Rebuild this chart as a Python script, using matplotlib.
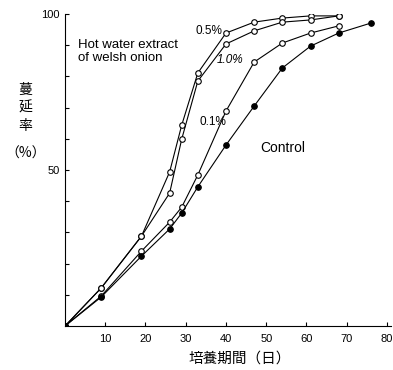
import matplotlib.pyplot as plt

plt.rcParams['font.family'] = ['Liberation Sans', 'DejaVu Sans']

# Days of culture and infection rate (%)
days = [9, 19, 26, 29, 33, 40, 47, 54, 61, 68]
days_control = [9, 19, 26, 29, 33, 40, 47, 54, 61, 68, 76]

rate_05 = [12.2, 28.8, 49.4, 64.4, 81.1, 93.9, 97.4, 98.7, 99.4, 99.4]
rate_10 = [12.2, 28.8, 42.6, 59.9, 78.5, 90.4, 94.6, 97.4, 98.1, 99.4]
rate_01 = [9.6, 24.0, 33.3, 38.1, 48.4, 68.9, 84.6, 90.7, 93.9, 96.2]
rate_control = [9.3, 22.4, 31.1, 36.2, 44.6, 58.0, 70.5, 82.7, 89.7, 93.9, 97.1]

x_ticks = [10, 20, 30, 40, 50, 60, 70, 80]
y_ticks = [10, 20, 30, 40, 50, 60, 70, 80, 90, 100]

fig = plt.figure(figsize=(3.93, 3.70), dpi=100)
ax = fig.add_axes([0.1654, 0.1189, 0.8295, 0.8432])

style = dict(color='black', lw=0.8, markersize=4, markeredgewidth=0.8)
for rates in [rate_05, rate_10, rate_01]:
    ax.plot([0] + days, [0] + rates, marker='o', markerfacecolor='white', **style)
ax.plot([0] + days_control, [0] + rate_control, marker='o', markerfacecolor='black', **style)

ax.set_xlim(0, 81)
ax.set_ylim(0, 100)
ax.spines['top'].set_visible(False)
ax.spines['right'].set_visible(False)
ax.set_xticks(x_ticks)
ax.set_yticks(y_ticks)
ax.set_yticklabels(['' if v not in (50, 100) else str(v) for v in y_ticks])
ax.tick_params(direction='in', length=3, width=0.8, labelsize=8, pad=4)
ax.tick_params(axis='x', pad=6)

# Annotations
ax.text(3.2, 92, 'Hot water extract\nof welsh onion', fontsize=9.5, va='top', linespacing=1.15)
ax.text(32.5, 94.5, '0.5%', fontsize=8.5, va='center')
ax.text(37.8, 85.2, '1.0%', fontsize=8.5, va='center', style='italic')
ax.text(33.3, 65.5, '0.1%', fontsize=8.5, va='center')
ax.text(48.5, 57, 'Control', fontsize=10, va='center')

fig.text(0.064, 0.708, '蔓\n延\n率', family=['Noto Sans CJK JP'], fontsize=10,
         ha='center', va='center', linespacing=1.35)
fig.text(0.064, 0.586, '（%）', family=['Noto Sans CJK JP'], fontsize=10, ha='center', va='center')
fig.text(0.61, 0.032, '培養期間（日）', family=['Noto Sans CJK JP'], fontsize=10.5,
         ha='center', va='center')

fig.savefig('out.png', dpi=100)
